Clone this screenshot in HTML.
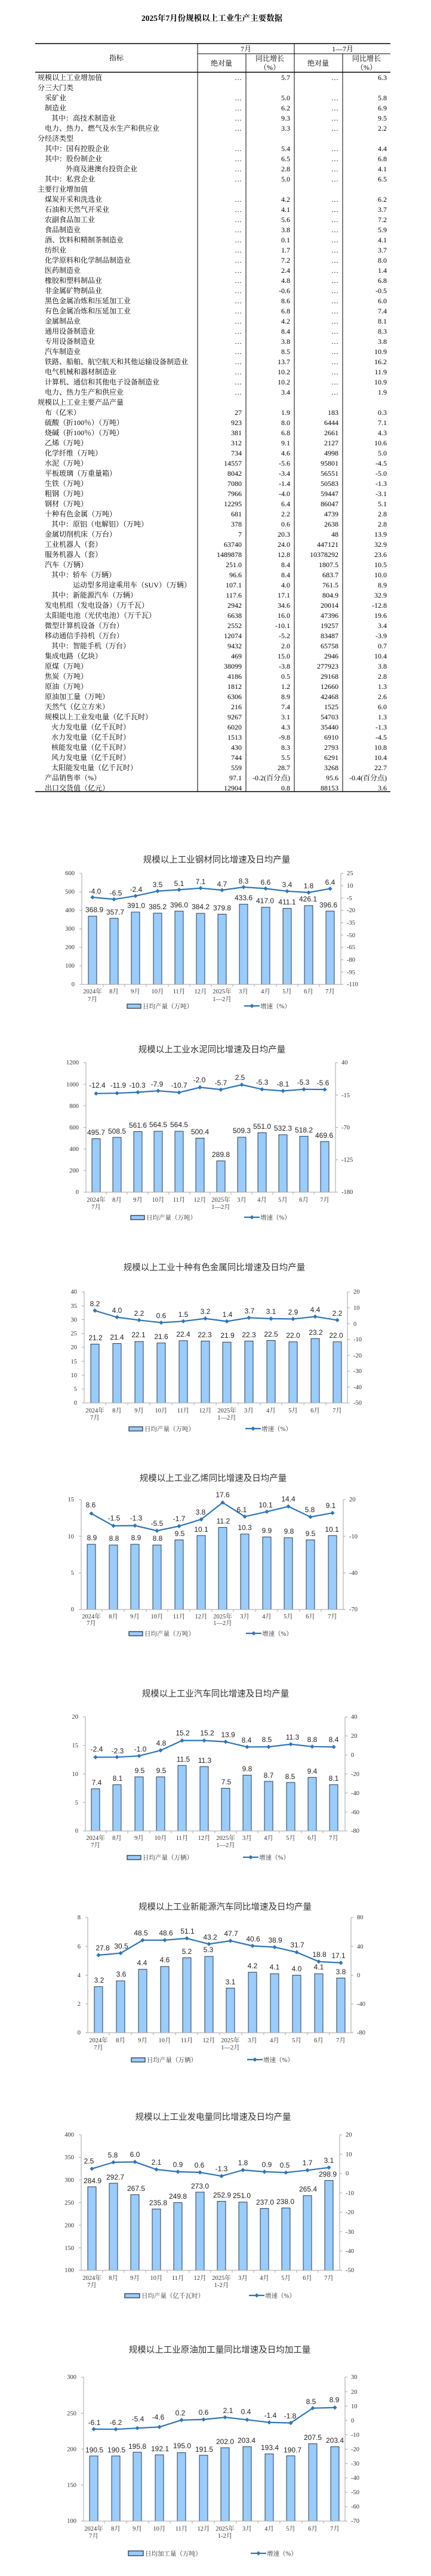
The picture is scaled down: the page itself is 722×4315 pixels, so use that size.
<!DOCTYPE html>
<html><head><meta charset="utf-8"><style>
html,body{margin:0;padding:0;background:#fff}
svg{display:block}
.tt{font:bold 13.5px "Liberation Serif","Noto Serif CJK SC",serif;text-anchor:middle;fill:#000}
.tb{font:12px "Liberation Serif","Noto Serif CJK SC",serif;fill:#000}
.r{text-anchor:end}
.c{text-anchor:middle}
.ct{font:14.5px "Liberation Sans","Noto Sans CJK SC",sans-serif;text-anchor:middle;fill:#333}
.v{font:12px "Liberation Sans",sans-serif;text-anchor:middle;fill:#222}
.k{font:10.5px "Liberation Serif","Noto Serif CJK SC",serif;fill:#333}
.bar rect{fill:#99CCFF;stroke:#1e2a36;stroke-width:.9}
.ln{fill:none;stroke:#2E75B6;stroke-width:2.2;stroke-linejoin:round}
.ax{stroke:#a6a6a6;stroke-width:1;fill:none}
</style></head><body>
<svg width="722" height="4315" viewBox="0 0 722 4315" xmlns="http://www.w3.org/2000/svg">
<defs>
<path id="d" d="M0,-3.6L3.6,0L0,3.6L-3.6,0Z" fill="#2E75B6"/>
<clipPath id="c1"><rect x="0" y="0" width="722" height="1649"/></clipPath>
<clipPath id="c2"><rect x="0" y="0" width="722" height="1997"/></clipPath>
<clipPath id="c3"><rect x="0" y="0" width="722" height="2350"/></clipPath>
<clipPath id="c4"><rect x="0" y="0" width="722" height="2696"/></clipPath>
<clipPath id="c5"><rect x="0" y="0" width="722" height="3067"/></clipPath>
<clipPath id="c6"><rect x="0" y="0" width="722" height="3405"/></clipPath>
<clipPath id="c7"><rect x="0" y="0" width="722" height="3803"/></clipPath>
<clipPath id="c8"><rect x="0" y="0" width="722" height="4223"/></clipPath>
</defs>

<!-- ================= TABLE ================= -->
<text class="tt" x="355" y="35">2025年7月份规模以上工业生产主要数据</text>
<g stroke="#000" fill="none">
<path d="M59,73H654" stroke-width="1.4"/>
<path d="M331,90H654" stroke-width="1"/>
<path d="M59,121H654" stroke-width="1.4"/>
<path d="M59,1326H654" stroke-width="1.5"/>
<path d="M331,73V1326M493,73V1326" stroke-width="1"/>
<path d="M412,90V1326M574,90V1326" stroke-width="1"/>
</g>
<g class="tb">
<text class="c" x="195" y="101">指标</text>
<text class="c" x="412" y="86">7月</text>
<text class="c" x="574" y="86">1—7月</text>
<text class="c" x="371" y="110">绝对量</text>
<text class="c" x="452" y="102">同比增长</text>
<text class="c" x="452" y="117">（%）</text>
<text class="c" x="533" y="110">绝对量</text>
<text class="c" x="614" y="102">同比增长</text>
<text class="c" x="614" y="117">（%）</text>
</g>
<g class="tb">
<text x="63" y="134">规模以上工业增加值</text>
<text x="63" y="151">分三大门类</text>
<text x="75" y="168">采矿业</text>
<text x="75" y="185">制造业</text>
<text x="86" y="202">其中：高技术制造业</text>
<text x="75" y="219">电力、热力、燃气及水生产和供应业</text>
<text x="63" y="236">分经济类型</text>
<text x="75" y="253">其中：国有控股企业</text>
<text x="75" y="270">其中：股份制企业</text>
<text x="110" y="287">外商及港澳台投资企业</text>
<text x="75" y="304">其中：私营企业</text>
<text x="63" y="321">主要行业增加值</text>
<text x="75" y="338">煤炭开采和洗选业</text>
<text x="75" y="355">石油和天然气开采业</text>
<text x="75" y="372">农副食品加工业</text>
<text x="75" y="389">食品制造业</text>
<text x="75" y="406">酒、饮料和精制茶制造业</text>
<text x="75" y="423">纺织业</text>
<text x="75" y="440">化学原料和化学制品制造业</text>
<text x="75" y="457">医药制造业</text>
<text x="75" y="474">橡胶和塑料制品业</text>
<text x="75" y="491">非金属矿物制品业</text>
<text x="75" y="508">黑色金属冶炼和压延加工业</text>
<text x="75" y="525">有色金属冶炼和压延加工业</text>
<text x="75" y="542">金属制品业</text>
<text x="75" y="559">通用设备制造业</text>
<text x="75" y="576">专用设备制造业</text>
<text x="75" y="593">汽车制造业</text>
<text x="75" y="610">铁路、船舶、航空航天和其他运输设备制造业</text>
<text x="75" y="627">电气机械和器材制造业</text>
<text x="75" y="644">计算机、通信和其他电子设备制造业</text>
<text x="75" y="661">电力、热力生产和供应业</text>
<text x="63" y="678">规模以上工业主要产品产量</text>
<text x="75" y="695">布（亿米）</text>
<text x="75" y="712">硫酸（折100％）（万吨）</text>
<text x="75" y="729">烧碱（折100％）（万吨）</text>
<text x="75" y="746">乙烯（万吨）</text>
<text x="75" y="763">化学纤维（万吨）</text>
<text x="75" y="780">水泥（万吨）</text>
<text x="75" y="797">平板玻璃（万重量箱）</text>
<text x="75" y="814">生铁（万吨）</text>
<text x="75" y="831">粗钢（万吨）</text>
<text x="75" y="848">钢材（万吨）</text>
<text x="75" y="865">十种有色金属（万吨）</text>
<text x="86" y="882">其中：原铝（电解铝）（万吨）</text>
<text x="75" y="899">金属切削机床（万台）</text>
<text x="75" y="916">工业机器人（套）</text>
<text x="75" y="933">服务机器人（套）</text>
<text x="75" y="950">汽车（万辆）</text>
<text x="86" y="967">其中：轿车（万辆）</text>
<text x="122" y="984">运动型多用途乘用车（SUV）（万辆）</text>
<text x="86" y="1001">其中：新能源汽车（万辆）</text>
<text x="75" y="1018">发电机组（发电设备）（万千瓦）</text>
<text x="75" y="1035">太阳能电池（光伏电池）（万千瓦）</text>
<text x="75" y="1052">微型计算机设备（万台）</text>
<text x="75" y="1069">移动通信手持机（万台）</text>
<text x="86" y="1086">其中：智能手机（万台）</text>
<text x="75" y="1103">集成电路（亿块）</text>
<text x="75" y="1120">原煤（万吨）</text>
<text x="75" y="1137">焦炭（万吨）</text>
<text x="75" y="1154">原油（万吨）</text>
<text x="75" y="1171">原油加工量（万吨）</text>
<text x="75" y="1188">天然气（亿立方米）</text>
<text x="75" y="1205">规模以上工业发电量（亿千瓦时）</text>
<text x="86" y="1222">火力发电量（亿千瓦时）</text>
<text x="86" y="1239">水力发电量（亿千瓦时）</text>
<text x="86" y="1256">核能发电量（亿千瓦时）</text>
<text x="86" y="1273">风力发电量（亿千瓦时）</text>
<text x="86" y="1290">太阳能发电量（亿千瓦时）</text>
<text x="75" y="1307">产品销售率（%）</text>
<text x="75" y="1324">出口交货值（亿元）</text>
</g>
<g class="tb r">
<!-- rows with … -->
<text x="405" y="134">…</text><text x="486" y="134">5.7</text><text x="567" y="134">…</text><text x="648" y="134">6.3</text>
<text x="405" y="168">…</text><text x="486" y="168">5.0</text><text x="567" y="168">…</text><text x="648" y="168">5.8</text>
<text x="405" y="185">…</text><text x="486" y="185">6.2</text><text x="567" y="185">…</text><text x="648" y="185">6.9</text>
<text x="405" y="202">…</text><text x="486" y="202">9.3</text><text x="567" y="202">…</text><text x="648" y="202">9.5</text>
<text x="405" y="219">…</text><text x="486" y="219">3.3</text><text x="567" y="219">…</text><text x="648" y="219">2.2</text>
<text x="405" y="253">…</text><text x="486" y="253">5.4</text><text x="567" y="253">…</text><text x="648" y="253">4.4</text>
<text x="405" y="270">…</text><text x="486" y="270">6.5</text><text x="567" y="270">…</text><text x="648" y="270">6.8</text>
<text x="405" y="287">…</text><text x="486" y="287">2.8</text><text x="567" y="287">…</text><text x="648" y="287">4.1</text>
<text x="405" y="304">…</text><text x="486" y="304">5.0</text><text x="567" y="304">…</text><text x="648" y="304">6.5</text>
<text x="405" y="338">…</text><text x="486" y="338">4.2</text><text x="567" y="338">…</text><text x="648" y="338">6.2</text>
<text x="405" y="355">…</text><text x="486" y="355">4.1</text><text x="567" y="355">…</text><text x="648" y="355">3.7</text>
<text x="405" y="372">…</text><text x="486" y="372">5.6</text><text x="567" y="372">…</text><text x="648" y="372">7.2</text>
<text x="405" y="389">…</text><text x="486" y="389">3.8</text><text x="567" y="389">…</text><text x="648" y="389">5.9</text>
<text x="405" y="406">…</text><text x="486" y="406">0.1</text><text x="567" y="406">…</text><text x="648" y="406">4.1</text>
<text x="405" y="423">…</text><text x="486" y="423">1.7</text><text x="567" y="423">…</text><text x="648" y="423">3.7</text>
<text x="405" y="440">…</text><text x="486" y="440">7.2</text><text x="567" y="440">…</text><text x="648" y="440">8.0</text>
<text x="405" y="457">…</text><text x="486" y="457">2.4</text><text x="567" y="457">…</text><text x="648" y="457">1.4</text>
<text x="405" y="474">…</text><text x="486" y="474">4.8</text><text x="567" y="474">…</text><text x="648" y="474">6.8</text>
<text x="405" y="491">…</text><text x="486" y="491">-0.6</text><text x="567" y="491">…</text><text x="648" y="491">-0.5</text>
<text x="405" y="508">…</text><text x="486" y="508">8.6</text><text x="567" y="508">…</text><text x="648" y="508">6.0</text>
<text x="405" y="525">…</text><text x="486" y="525">6.8</text><text x="567" y="525">…</text><text x="648" y="525">7.4</text>
<text x="405" y="542">…</text><text x="486" y="542">4.2</text><text x="567" y="542">…</text><text x="648" y="542">8.1</text>
<text x="405" y="559">…</text><text x="486" y="559">8.4</text><text x="567" y="559">…</text><text x="648" y="559">8.3</text>
<text x="405" y="576">…</text><text x="486" y="576">3.8</text><text x="567" y="576">…</text><text x="648" y="576">3.8</text>
<text x="405" y="593">…</text><text x="486" y="593">8.5</text><text x="567" y="593">…</text><text x="648" y="593">10.9</text>
<text x="405" y="610">…</text><text x="486" y="610">13.7</text><text x="567" y="610">…</text><text x="648" y="610">16.2</text>
<text x="405" y="627">…</text><text x="486" y="627">10.2</text><text x="567" y="627">…</text><text x="648" y="627">11.9</text>
<text x="405" y="644">…</text><text x="486" y="644">10.2</text><text x="567" y="644">…</text><text x="648" y="644">10.9</text>
<text x="405" y="661">…</text><text x="486" y="661">3.4</text><text x="567" y="661">…</text><text x="648" y="661">1.9</text>
<text x="405" y="695">27</text><text x="486" y="695">1.9</text><text x="567" y="695">183</text><text x="648" y="695">0.3</text>
<text x="405" y="712">923</text><text x="486" y="712">8.0</text><text x="567" y="712">6444</text><text x="648" y="712">7.1</text>
<text x="405" y="729">381</text><text x="486" y="729">6.8</text><text x="567" y="729">2661</text><text x="648" y="729">4.3</text>
<text x="405" y="746">312</text><text x="486" y="746">9.1</text><text x="567" y="746">2127</text><text x="648" y="746">10.6</text>
<text x="405" y="763">734</text><text x="486" y="763">4.6</text><text x="567" y="763">4998</text><text x="648" y="763">5.0</text>
<text x="405" y="780">14557</text><text x="486" y="780">-5.6</text><text x="567" y="780">95801</text><text x="648" y="780">-4.5</text>
<text x="405" y="797">8042</text><text x="486" y="797">-3.4</text><text x="567" y="797">56551</text><text x="648" y="797">-5.0</text>
<text x="405" y="814">7080</text><text x="486" y="814">-1.4</text><text x="567" y="814">50583</text><text x="648" y="814">-1.3</text>
<text x="405" y="831">7966</text><text x="486" y="831">-4.0</text><text x="567" y="831">59447</text><text x="648" y="831">-3.1</text>
<text x="405" y="848">12295</text><text x="486" y="848">6.4</text><text x="567" y="848">86047</text><text x="648" y="848">5.1</text>
<text x="405" y="865">681</text><text x="486" y="865">2.2</text><text x="567" y="865">4739</text><text x="648" y="865">2.8</text>
<text x="405" y="882">378</text><text x="486" y="882">0.6</text><text x="567" y="882">2638</text><text x="648" y="882">2.8</text>
<text x="405" y="899">7</text><text x="486" y="899">20.3</text><text x="567" y="899">48</text><text x="648" y="899">13.9</text>
<text x="405" y="916">63740</text><text x="486" y="916">24.0</text><text x="567" y="916">447121</text><text x="648" y="916">32.9</text>
<text x="405" y="933">1489878</text><text x="486" y="933">12.8</text><text x="567" y="933">10378292</text><text x="648" y="933">23.6</text>
<text x="405" y="950">251.0</text><text x="486" y="950">8.4</text><text x="567" y="950">1807.5</text><text x="648" y="950">10.5</text>
<text x="405" y="967">96.6</text><text x="486" y="967">8.4</text><text x="567" y="967">683.7</text><text x="648" y="967">10.0</text>
<text x="405" y="984">107.1</text><text x="486" y="984">4.0</text><text x="567" y="984">761.5</text><text x="648" y="984">8.9</text>
<text x="405" y="1001">117.6</text><text x="486" y="1001">17.1</text><text x="567" y="1001">804.9</text><text x="648" y="1001">32.9</text>
<text x="405" y="1018">2942</text><text x="486" y="1018">34.6</text><text x="567" y="1018">20014</text><text x="648" y="1018">-12.8</text>
<text x="405" y="1035">6638</text><text x="486" y="1035">16.0</text><text x="567" y="1035">47396</text><text x="648" y="1035">19.6</text>
<text x="405" y="1052">2552</text><text x="486" y="1052">-10.1</text><text x="567" y="1052">19257</text><text x="648" y="1052">3.4</text>
<text x="405" y="1069">12074</text><text x="486" y="1069">-5.2</text><text x="567" y="1069">83487</text><text x="648" y="1069">-3.9</text>
<text x="405" y="1086">9432</text><text x="486" y="1086">2.0</text><text x="567" y="1086">65758</text><text x="648" y="1086">0.7</text>
<text x="405" y="1103">469</text><text x="486" y="1103">15.0</text><text x="567" y="1103">2946</text><text x="648" y="1103">10.4</text>
<text x="405" y="1120">38099</text><text x="486" y="1120">-3.8</text><text x="567" y="1120">277923</text><text x="648" y="1120">3.8</text>
<text x="405" y="1137">4186</text><text x="486" y="1137">0.5</text><text x="567" y="1137">29168</text><text x="648" y="1137">2.8</text>
<text x="405" y="1154">1812</text><text x="486" y="1154">1.2</text><text x="567" y="1154">12660</text><text x="648" y="1154">1.3</text>
<text x="405" y="1171">6306</text><text x="486" y="1171">8.9</text><text x="567" y="1171">42468</text><text x="648" y="1171">2.6</text>
<text x="405" y="1188">216</text><text x="486" y="1188">7.4</text><text x="567" y="1188">1525</text><text x="648" y="1188">6.0</text>
<text x="405" y="1205">9267</text><text x="486" y="1205">3.1</text><text x="567" y="1205">54703</text><text x="648" y="1205">1.3</text>
<text x="405" y="1222">6020</text><text x="486" y="1222">4.3</text><text x="567" y="1222">35440</text><text x="648" y="1222">-1.3</text>
<text x="405" y="1239">1513</text><text x="486" y="1239">-9.8</text><text x="567" y="1239">6910</text><text x="648" y="1239">-4.5</text>
<text x="405" y="1256">430</text><text x="486" y="1256">8.3</text><text x="567" y="1256">2793</text><text x="648" y="1256">10.8</text>
<text x="405" y="1273">744</text><text x="486" y="1273">5.5</text><text x="567" y="1273">6291</text><text x="648" y="1273">10.4</text>
<text x="405" y="1290">559</text><text x="486" y="1290">28.7</text><text x="567" y="1290">3268</text><text x="648" y="1290">22.7</text>
<text x="405" y="1307">97.1</text><text x="486" y="1307">-0.2(百分点)</text><text x="567" y="1307">95.6</text><text x="648" y="1307">-0.4(百分点)</text>
<text x="405" y="1324">12904</text><text x="486" y="1324">0.8</text><text x="567" y="1324">88153</text><text x="648" y="1324">3.6</text>
</g>

<!-- ================= CHART 1 钢材 ================= -->
<text class="ct" x="363" y="1445">规模以上工业钢材同比增速及日均产量</text>
<g class="bar" clip-path="url(#c1)">
<rect x="148" y="1534.6" width="14" height="200"/><rect x="184" y="1538.1" width="14" height="200"/><rect x="220" y="1527.8" width="14" height="200"/><rect x="257" y="1529.6" width="14" height="200"/><rect x="293" y="1526.2" width="14" height="200"/><rect x="329" y="1529.9" width="14" height="200"/><rect x="365" y="1531.3" width="14" height="200"/><rect x="401" y="1514.6" width="14" height="200"/><rect x="438" y="1519.7" width="14" height="200"/><rect x="474" y="1521.6" width="14" height="200"/><rect x="510" y="1516.9" width="14" height="200"/><rect x="546" y="1526.1" width="14" height="200"/>
</g>
<path class="ax" d="M137,1463V1649H571M571,1463V1649M133,1649H137M133,1618H137M133,1587H137M133,1556H137M133,1525H137M133,1494H137M133,1463H137M571,1463H575M571,1483.7H575M571,1504.3H575M571,1525H575M571,1545.7H575M571,1566.3H575M571,1587H575M571,1607.7H575M571,1628.3H575M571,1649H575M173,1649V1653M209,1649V1653M245,1649V1653M282,1649V1653M318,1649V1653M354,1649V1653M390,1649V1653M426,1649V1653M463,1649V1653M499,1649V1653M535,1649V1653"/>
<polyline class="ln" points="155,1503 191,1506.4 227,1500.8 264,1492.6 300,1490.4 336,1487.7 372,1491 408,1486 445,1488.4 481,1492.8 517,1495 553,1488.6"/>
<use href="#d" x="155" y="1503"/><use href="#d" x="191" y="1506.4"/><use href="#d" x="227" y="1500.8"/><use href="#d" x="264" y="1492.6"/><use href="#d" x="300" y="1490.4"/><use href="#d" x="336" y="1487.7"/><use href="#d" x="372" y="1491"/><use href="#d" x="408" y="1486"/><use href="#d" x="445" y="1488.4"/><use href="#d" x="481" y="1492.8"/><use href="#d" x="517" y="1495"/><use href="#d" x="553" y="1488.6"/>
<g class="v">
<text x="159" y="1497">-4.0</text><text x="194" y="1500">-6.5</text><text x="228" y="1494">-2.4</text><text x="264" y="1486">3.5</text><text x="300" y="1484">5.1</text><text x="336" y="1481">7.1</text><text x="372" y="1485">4.7</text><text x="408" y="1480">8.3</text><text x="445" y="1482">6.6</text><text x="481" y="1486">3.4</text><text x="517" y="1488">1.8</text><text x="553" y="1482">6.4</text>
<text x="158" y="1528">368.9</text><text x="193" y="1532">357.7</text><text x="228" y="1521">391.0</text><text x="264" y="1523">385.2</text><text x="300" y="1520">396.0</text><text x="336" y="1523">384.2</text><text x="372" y="1525">379.8</text><text x="408" y="1508">433.6</text><text x="444" y="1513">417.0</text><text x="481" y="1515">411.1</text><text x="516" y="1510">426.1</text><text x="550" y="1520">396.6</text>
</g>
<g class="k r"><text x="125" y="1652">0</text><text x="125" y="1621">100</text><text x="125" y="1590">200</text><text x="125" y="1559">300</text><text x="125" y="1528">400</text><text x="125" y="1497">500</text><text x="125" y="1466">600</text></g>
<g class="k"><text x="581" y="1466">25</text><text x="581" y="1487">10</text><text x="581" y="1508">-5</text><text x="581" y="1528">-20</text><text x="581" y="1549">-35</text><text x="581" y="1570">-50</text><text x="581" y="1590">-65</text><text x="581" y="1611">-80</text><text x="581" y="1632">-95</text><text x="581" y="1652">-110</text></g>
<g class="k c"><text x="155" y="1664">2024年</text><text x="155" y="1677">7月</text><text x="191" y="1664">8月</text><text x="227" y="1664">9月</text><text x="264" y="1664">10月</text><text x="300" y="1664">11月</text><text x="336" y="1664">12月</text><text x="372" y="1664">2025年</text><text x="372" y="1677">1—2月</text><text x="408" y="1664">3月</text><text x="445" y="1664">4月</text><text x="481" y="1664">5月</text><text x="517" y="1664">6月</text><text x="553" y="1664">7月</text></g>
<rect x="213" y="1682" width="23" height="7" fill="#99CCFF" stroke="#1e2a36" stroke-width="1.2"/><text class="k" x="239" y="1689">日均产量（万吨）</text>
<path d="M409,1685H435" stroke="#2E75B6" stroke-width="2.2"/><use href="#d" x="422" y="1685"/><text class="k" x="436" y="1689">增速（%）</text>

<!-- ================= CHART 2 水泥 ================= -->
<text class="ct" x="355" y="1763">规模以上工业水泥同比增速及日均产量</text>
<g class="bar" clip-path="url(#c2)">
<rect x="154" y="1907.4" width="14" height="200"/><rect x="189" y="1905.1" width="14" height="200"/><rect x="224" y="1895.5" width="14" height="200"/><rect x="258" y="1894.9" width="14" height="200"/><rect x="293" y="1894.9" width="14" height="200"/><rect x="328" y="1906.5" width="14" height="200"/><rect x="363" y="1944.6" width="14" height="200"/><rect x="398" y="1904.9" width="14" height="200"/><rect x="432" y="1897.4" width="14" height="200"/><rect x="467" y="1900.8" width="14" height="200"/><rect x="502" y="1903.3" width="14" height="200"/><rect x="537" y="1912.1" width="14" height="200"/>
</g>
<path class="ax" d="M144,1780V1997H562M562,1780V1997M140,1997H144M140,1960.8H144M140,1924.7H144M140,1888.5H144M140,1852.3H144M140,1816.2H144M140,1780H144M562,1780H566M562,1834.3H566M562,1888.5H566M562,1942.8H566M562,1997H566M178,1997V2001M213,1997V2001M248,1997V2001M283,1997V2001M318,1997V2001M352,1997V2001M387,1997V2001M422,1997V2001M457,1997V2001M491,1997V2001M526,1997V2001"/>
<polyline class="ln" points="161,1831.7 196,1831.2 231,1829.6 265,1827.2 300,1830 335,1821.4 370,1825.1 405,1817 439,1824.7 474,1827.4 509,1824.7 544,1825"/>
<use href="#d" x="161" y="1831.7"/><use href="#d" x="196" y="1831.2"/><use href="#d" x="231" y="1829.6"/><use href="#d" x="265" y="1827.2"/><use href="#d" x="300" y="1830"/><use href="#d" x="335" y="1821.4"/><use href="#d" x="370" y="1825.1"/><use href="#d" x="405" y="1817"/><use href="#d" x="439" y="1824.7"/><use href="#d" x="474" y="1827.4"/><use href="#d" x="509" y="1824.7"/><use href="#d" x="544" y="1825"/>
<g class="v">
<text x="163" y="1822">-12.4</text><text x="198" y="1822">-11.9</text><text x="230" y="1822">-10.3</text><text x="263" y="1820">-7.9</text><text x="300" y="1822">-10.7</text><text x="334" y="1813">-2.0</text><text x="370" y="1818">-5.7</text><text x="402" y="1809">2.5</text><text x="439" y="1817">-5.3</text><text x="474" y="1820">-8.1</text><text x="508" y="1817">-5.3</text><text x="541" y="1818">-5.6</text>
<text x="161" y="1901">495.7</text><text x="196" y="1899">508.5</text><text x="231" y="1889">561.6</text><text x="265" y="1888">564.5</text><text x="300" y="1888">564.5</text><text x="335" y="1900">500.4</text><text x="370" y="1938">289.8</text><text x="405" y="1898">509.3</text><text x="439" y="1891">551.0</text><text x="474" y="1894">532.3</text><text x="509" y="1897">518.2</text><text x="543" y="1906">469.6</text>
</g>
<g class="k r"><text x="132" y="2000">0</text><text x="132" y="1964">200</text><text x="132" y="1928">400</text><text x="132" y="1892">600</text><text x="132" y="1856">800</text><text x="132" y="1820">1000</text><text x="132" y="1783">1200</text></g>
<g class="k"><text x="572" y="1783">40</text><text x="572" y="1838">-15</text><text x="572" y="1892">-70</text><text x="572" y="1946">-125</text><text x="572" y="2000">-180</text></g>
<g class="k c"><text x="161" y="2013">2024年</text><text x="161" y="2025">7月</text><text x="196" y="2013">8月</text><text x="231" y="2013">9月</text><text x="265" y="2013">10月</text><text x="300" y="2013">11月</text><text x="335" y="2013">12月</text><text x="370" y="2013">2025年</text><text x="370" y="2025">1—2月</text><text x="405" y="2013">3月</text><text x="439" y="2013">4月</text><text x="474" y="2013">5月</text><text x="509" y="2013">6月</text><text x="544" y="2013">7月</text></g>
<rect x="219" y="2036" width="23" height="7" fill="#99CCFF" stroke="#1e2a36" stroke-width="1.2"/><text class="k" x="245" y="2043">日均产量（万吨）</text>
<path d="M409,2039H435" stroke="#2E75B6" stroke-width="2.2"/><use href="#d" x="422" y="2039"/><text class="k" x="436" y="2043">增速（%）</text>

<!-- ================= CHART 3 十种有色金属 ================= -->
<text class="ct" x="359" y="2128">规模以上工业十种有色金属同比增速及日均产量</text>
<g class="bar" clip-path="url(#c3)">
<rect x="152" y="2251.4" width="14" height="200"/><rect x="189" y="2250.5" width="14" height="200"/><rect x="226" y="2247.2" width="14" height="200"/><rect x="263" y="2249.6" width="14" height="200"/><rect x="300" y="2245.8" width="14" height="200"/><rect x="337" y="2246.3" width="14" height="200"/><rect x="373" y="2248.2" width="14" height="200"/><rect x="410" y="2246.3" width="14" height="200"/><rect x="447" y="2245.4" width="14" height="200"/><rect x="484" y="2247.7" width="14" height="200"/><rect x="521" y="2242.1" width="14" height="200"/><rect x="558" y="2247.7" width="14" height="200"/>
</g>
<path class="ax" d="M141,2164V2350H582M582,2164V2350M137,2350H141M137,2326.8H141M137,2303.5H141M137,2280.3H141M137,2257H141M137,2233.8H141M137,2210.5H141M137,2187.3H141M137,2164H141M582,2164H586M582,2190.6H586M582,2217.1H586M582,2243.7H586M582,2270.3H586M582,2296.9H586M582,2323.4H586M582,2350H586M177,2350V2354M214,2350V2354M251,2350V2354M288,2350V2354M325,2350V2354M362,2350V2354M399,2350V2354M436,2350V2354M472,2350V2354M509,2350V2354M546,2350V2354"/>
<polyline class="ln" points="159,2195.4 196,2206.5 233,2211.3 270,2215.5 307,2213.2 344,2208.6 380,2213.4 417,2207.3 454,2208.9 491,2209.4 528,2205.4 565,2211.3"/>
<use href="#d" x="159" y="2195.4"/><use href="#d" x="196" y="2206.5"/><use href="#d" x="233" y="2211.3"/><use href="#d" x="270" y="2215.5"/><use href="#d" x="307" y="2213.2"/><use href="#d" x="344" y="2208.6"/><use href="#d" x="380" y="2213.4"/><use href="#d" x="417" y="2207.3"/><use href="#d" x="454" y="2208.9"/><use href="#d" x="491" y="2209.4"/><use href="#d" x="528" y="2205.4"/><use href="#d" x="565" y="2211.3"/>
<g class="v">
<text x="159" y="2188">8.2</text><text x="196" y="2199">4.0</text><text x="233" y="2204">2.2</text><text x="270" y="2208">0.6</text><text x="307" y="2206">1.5</text><text x="344" y="2201">3.2</text><text x="381" y="2206">1.4</text><text x="418" y="2200">3.7</text><text x="454" y="2201">3.1</text><text x="491" y="2202">2.9</text><text x="528" y="2198">4.4</text><text x="565" y="2204">2.2</text>
<text x="160" y="2245">21.2</text><text x="196" y="2244">21.4</text><text x="232" y="2240">22.1</text><text x="270" y="2243">21.6</text><text x="307" y="2239">22.4</text><text x="343" y="2240">22.3</text><text x="381" y="2241">21.9</text><text x="417" y="2240">22.3</text><text x="454" y="2239">22.5</text><text x="491" y="2241">22.0</text><text x="529" y="2236">23.2</text><text x="563" y="2241">22.0</text>
</g>
<g class="k r"><text x="129" y="2353">0</text><text x="129" y="2330">5</text><text x="129" y="2307">10</text><text x="129" y="2284">15</text><text x="129" y="2260">20</text><text x="129" y="2237">25</text><text x="129" y="2214">30</text><text x="129" y="2191">35</text><text x="129" y="2167">40</text></g>
<g class="k"><text x="592" y="2167">20</text><text x="592" y="2194">10</text><text x="592" y="2221">0</text><text x="592" y="2247">-10</text><text x="592" y="2274">-20</text><text x="592" y="2300">-30</text><text x="592" y="2327">-40</text><text x="592" y="2353">-50</text></g>
<g class="k c"><text x="159" y="2366">2024年</text><text x="159" y="2378">7月</text><text x="196" y="2366">8月</text><text x="233" y="2366">9月</text><text x="270" y="2366">10月</text><text x="307" y="2366">11月</text><text x="344" y="2366">12月</text><text x="380" y="2366">2025年</text><text x="380" y="2378">1—2月</text><text x="417" y="2366">3月</text><text x="454" y="2366">4月</text><text x="491" y="2366">5月</text><text x="528" y="2366">6月</text><text x="565" y="2366">7月</text></g>
<rect x="216" y="2390" width="23" height="7" fill="#99CCFF" stroke="#1e2a36" stroke-width="1.2"/><text class="k" x="242" y="2397">日均产量（万吨）</text>
<path d="M411,2393H437" stroke="#2E75B6" stroke-width="2.2"/><use href="#d" x="424" y="2393"/><text class="k" x="438" y="2397">增速（%）</text>

<!-- ================= CHART 4 乙烯 ================= -->
<text class="ct" x="357" y="2481">规模以上工业乙烯同比增速及日均产量</text>
<g class="bar" clip-path="url(#c4)">
<rect x="146" y="2586.8" width="14" height="200"/><rect x="183" y="2588" width="14" height="200"/><rect x="219" y="2586.8" width="14" height="200"/><rect x="256" y="2588" width="14" height="200"/><rect x="293" y="2579.4" width="14" height="200"/><rect x="330" y="2572.1" width="14" height="200"/><rect x="366" y="2558.6" width="14" height="200"/><rect x="403" y="2569.6" width="14" height="200"/><rect x="440" y="2574.5" width="14" height="200"/><rect x="476" y="2575.8" width="14" height="200"/><rect x="513" y="2579.4" width="14" height="200"/><rect x="550" y="2572.1" width="14" height="200"/>
</g>
<path class="ax" d="M136,2512V2696H575M575,2512V2696M132,2696H136M132,2634.7H136M132,2573.3H136M132,2512H136M575,2512H579M575,2573.3H579M575,2634.7H579M575,2696H579M171,2696V2700M208,2696V2700M245,2696V2700M281,2696V2700M318,2696V2700M355,2696V2700M391,2696V2700M428,2696V2700M465,2696V2700M502,2696V2700M538,2696V2700"/>
<polyline class="ln" points="153,2535.3 190,2555.9 226,2555.5 263,2564.1 300,2556.4 337,2545.1 373,2516.9 410,2540.4 447,2532.2 483,2523.4 520,2541 557,2534.3"/>
<use href="#d" x="153" y="2535.3"/><use href="#d" x="190" y="2555.9"/><use href="#d" x="226" y="2555.5"/><use href="#d" x="263" y="2564.1"/><use href="#d" x="300" y="2556.4"/><use href="#d" x="337" y="2545.1"/><use href="#d" x="373" y="2516.9"/><use href="#d" x="410" y="2540.4"/><use href="#d" x="447" y="2532.2"/><use href="#d" x="483" y="2523.4"/><use href="#d" x="520" y="2541"/><use href="#d" x="557" y="2534.3"/>
<g class="v">
<text x="152" y="2525">8.6</text><text x="191" y="2547">-1.5</text><text x="228" y="2547">-1.3</text><text x="263" y="2556">-5.5</text><text x="300" y="2548">-1.7</text><text x="336" y="2537">3.8</text><text x="373" y="2508">17.6</text><text x="405" y="2533">6.1</text><text x="445" y="2525">10.1</text><text x="483" y="2515">14.4</text><text x="519" y="2533">5.8</text><text x="554" y="2526">9.1</text>
<text x="154" y="2580">8.9</text><text x="191" y="2581">8.8</text><text x="228" y="2580">8.9</text><text x="264" y="2581">8.8</text><text x="301" y="2573">9.5</text><text x="337" y="2566">10.1</text><text x="374" y="2552">11.2</text><text x="410" y="2563">10.3</text><text x="447" y="2568">9.9</text><text x="484" y="2569">9.8</text><text x="520" y="2573">9.5</text><text x="556" y="2566">10.1</text>
</g>
<g class="k r"><text x="124" y="2699">0</text><text x="124" y="2638">5</text><text x="124" y="2577">10</text><text x="124" y="2515">15</text></g>
<g class="k"><text x="585" y="2515">20</text><text x="585" y="2577">-10</text><text x="585" y="2638">-40</text><text x="585" y="2699">-70</text></g>
<g class="k c"><text x="153" y="2711">2024年</text><text x="153" y="2722">7月</text><text x="190" y="2711">8月</text><text x="226" y="2711">9月</text><text x="263" y="2711">10月</text><text x="300" y="2711">11月</text><text x="337" y="2711">12月</text><text x="373" y="2711">2025年</text><text x="373" y="2722">1—2月</text><text x="410" y="2711">3月</text><text x="447" y="2711">4月</text><text x="483" y="2711">5月</text><text x="520" y="2711">6月</text><text x="557" y="2711">7月</text></g>
<rect x="216" y="2733" width="23" height="7" fill="#99CCFF" stroke="#1e2a36" stroke-width="1.2"/><text class="k" x="242" y="2740">日均产量（万吨）</text>
<path d="M412,2736H438" stroke="#2E75B6" stroke-width="2.2"/><use href="#d" x="425" y="2736"/><text class="k" x="439" y="2740">增速（%）</text>

<!-- ================= CHART 5 汽车 ================= -->
<text class="ct" x="361" y="2842">规模以上工业汽车同比增速及日均产量</text>
<g class="bar" clip-path="url(#c5)">
<rect x="153" y="2996.3" width="14" height="200"/><rect x="189" y="2989.6" width="14" height="200"/><rect x="226" y="2976.3" width="14" height="200"/><rect x="262" y="2976.3" width="14" height="200"/><rect x="298" y="2957.2" width="14" height="200"/><rect x="335" y="2959.1" width="14" height="200"/><rect x="371" y="2995.4" width="14" height="200"/><rect x="407" y="2973.4" width="14" height="200"/><rect x="443" y="2983.9" width="14" height="200"/><rect x="480" y="2985.8" width="14" height="200"/><rect x="516" y="2977.2" width="14" height="200"/><rect x="552" y="2989.6" width="14" height="200"/>
</g>
<path class="ax" d="M143,2876V3067H578M578,2876V3067M139,3067H143M139,3019.3H143M139,2971.5H143M139,2923.8H143M139,2876H143M578,2876H582M578,2907.8H582M578,2939.7H582M578,2971.5H582M578,3003.3H582M578,3035.2H582M578,3067H582M178,3067V3071M214,3067V3071M251,3067V3071M287,3067V3071M323,3067V3071M360,3067V3071M396,3067V3071M432,3067V3071M468,3067V3071M505,3067V3071M541,3067V3071"/>
<polyline class="ln" points="160,2943.5 196,2943.3 233,2941.3 269,2932 305,2915.5 342,2915.5 378,2917.6 414,2926.3 450,2926.1 487,2921.7 523,2925.7 559,2926.3"/>
<use href="#d" x="160" y="2943.5"/><use href="#d" x="196" y="2943.3"/><use href="#d" x="233" y="2941.3"/><use href="#d" x="269" y="2932"/><use href="#d" x="305" y="2915.5"/><use href="#d" x="342" y="2915.5"/><use href="#d" x="378" y="2917.6"/><use href="#d" x="414" y="2926.3"/><use href="#d" x="450" y="2926.1"/><use href="#d" x="487" y="2921.7"/><use href="#d" x="523" y="2925.7"/><use href="#d" x="559" y="2926.3"/>
<g class="v">
<text x="162" y="2934">-2.4</text><text x="197" y="2937">-2.3</text><text x="235" y="2934">-1.0</text><text x="270" y="2924">4.8</text><text x="306" y="2907">15.2</text><text x="347" y="2907">15.2</text><text x="382" y="2910">13.9</text><text x="413" y="2919">8.4</text><text x="447" y="2918">8.5</text><text x="490" y="2914">11.3</text><text x="523" y="2918">8.8</text><text x="559" y="2918">8.4</text>
<text x="162" y="2990">7.4</text><text x="197" y="2983">8.1</text><text x="234" y="2970">9.5</text><text x="270" y="2970">9.5</text><text x="307" y="2951">11.5</text><text x="343" y="2953">11.3</text><text x="379" y="2989">7.5</text><text x="414" y="2967">9.8</text><text x="450" y="2978">8.7</text><text x="486" y="2980">8.5</text><text x="523" y="2971">9.4</text><text x="559" y="2983">8.1</text>
</g>
<g class="k r"><text x="131" y="3070">0</text><text x="131" y="3023">5</text><text x="131" y="2975">10</text><text x="131" y="2927">15</text><text x="131" y="2879">20</text></g>
<g class="k"><text x="588" y="2879">40</text><text x="588" y="2911">20</text><text x="588" y="2943">0</text><text x="588" y="2975">-20</text><text x="588" y="3007">-40</text><text x="588" y="3039">-60</text><text x="588" y="3070">-80</text></g>
<g class="k c"><text x="160" y="3082">2024年</text><text x="160" y="3094">7月</text><text x="196" y="3082">8月</text><text x="233" y="3082">9月</text><text x="269" y="3082">10月</text><text x="305" y="3082">11月</text><text x="342" y="3082">12月</text><text x="378" y="3082">2025年</text><text x="378" y="3094">1—2月</text><text x="414" y="3082">3月</text><text x="450" y="3082">4月</text><text x="487" y="3082">5月</text><text x="523" y="3082">6月</text><text x="559" y="3082">7月</text></g>
<rect x="213" y="3108" width="23" height="7" fill="#99CCFF" stroke="#1e2a36" stroke-width="1.2"/><text class="k" x="239" y="3115">日均产量（万辆）</text>
<path d="M407,3111H433" stroke="#2E75B6" stroke-width="2.2"/><use href="#d" x="420" y="3111"/><text class="k" x="434" y="3115">增速（%）</text>

<!-- ================= CHART 6 新能源汽车 ================= -->
<text class="ct" x="377" y="3199">规模以上工业新能源汽车同比增速及日均产量</text>
<g class="bar" clip-path="url(#c6)">
<rect x="158" y="3327.8" width="14" height="200"/><rect x="195" y="3318.1" width="14" height="200"/><rect x="232" y="3298.8" width="14" height="200"/><rect x="269" y="3294" width="14" height="200"/><rect x="306" y="3279.5" width="14" height="200"/><rect x="343" y="3277.1" width="14" height="200"/><rect x="379" y="3330.2" width="14" height="200"/><rect x="416" y="3303.7" width="14" height="200"/><rect x="453" y="3306.1" width="14" height="200"/><rect x="490" y="3308.5" width="14" height="200"/><rect x="527" y="3306.1" width="14" height="200"/><rect x="564" y="3313.3" width="14" height="200"/>
</g>
<path class="ax" d="M147,3212V3405H588M588,3212V3405M143,3405H147M143,3356.8H147M143,3308.5H147M143,3260.3H147M143,3212H147M588,3212H592M588,3260.3H592M588,3308.5H592M588,3356.8H592M588,3405H592M183,3405V3409M220,3405V3409M257,3405V3409M294,3405V3409M331,3405V3409M368,3405V3409M405,3405V3409M442,3405V3409M478,3405V3409M515,3405V3409M552,3405V3409"/>
<polyline class="ln" points="165,3275 202,3271.7 239,3250 276,3249.9 313,3246.9 350,3256.4 386,3251 423,3259.5 460,3261.6 497,3270.2 534,3285.8 571,3287.9"/>
<use href="#d" x="165" y="3275"/><use href="#d" x="202" y="3271.7"/><use href="#d" x="239" y="3250"/><use href="#d" x="276" y="3249.9"/><use href="#d" x="313" y="3246.9"/><use href="#d" x="350" y="3256.4"/><use href="#d" x="386" y="3251"/><use href="#d" x="423" y="3259.5"/><use href="#d" x="460" y="3261.6"/><use href="#d" x="497" y="3270.2"/><use href="#d" x="534" y="3285.8"/><use href="#d" x="571" y="3287.9"/>
<g class="v">
<text x="172" y="3267">27.8</text><text x="203" y="3264">30.5</text><text x="236" y="3242">48.5</text><text x="278" y="3242">48.6</text><text x="314" y="3239">51.1</text><text x="352" y="3249">43.2</text><text x="387" y="3243">47.7</text><text x="424" y="3252">40.6</text><text x="461" y="3254">38.9</text><text x="498" y="3262">31.7</text><text x="535" y="3278">18.8</text><text x="567" y="3280">17.1</text>
<text x="166" y="3321">3.2</text><text x="203" y="3311">3.6</text><text x="238" y="3292">4.4</text><text x="276" y="3287">4.6</text><text x="313" y="3273">5.2</text><text x="349" y="3270">5.3</text><text x="386" y="3324">3.1</text><text x="423" y="3297">4.2</text><text x="460" y="3299">4.1</text><text x="497" y="3302">4.0</text><text x="534" y="3299">4.1</text><text x="571" y="3307">3.8</text>
</g>
<g class="k r"><text x="135" y="3408">0</text><text x="135" y="3360">2</text><text x="135" y="3312">4</text><text x="135" y="3264">6</text><text x="135" y="3215">8</text></g>
<g class="k"><text x="598" y="3215">80</text><text x="598" y="3264">40</text><text x="598" y="3312">0</text><text x="598" y="3360">-40</text><text x="598" y="3408">-80</text></g>
<g class="k c"><text x="165" y="3421">2024年</text><text x="165" y="3433">7月</text><text x="202" y="3421">8月</text><text x="239" y="3421">9月</text><text x="276" y="3421">10月</text><text x="313" y="3421">11月</text><text x="350" y="3421">12月</text><text x="386" y="3421">2025年</text><text x="386" y="3433">1—2月</text><text x="423" y="3421">3月</text><text x="460" y="3421">4月</text><text x="497" y="3421">5月</text><text x="534" y="3421">6月</text><text x="571" y="3421">7月</text></g>
<rect x="220" y="3447" width="23" height="7" fill="#99CCFF" stroke="#1e2a36" stroke-width="1.2"/><text class="k" x="246" y="3454">日均产量（万辆）</text>
<path d="M414,3450H440" stroke="#2E75B6" stroke-width="2.2"/><use href="#d" x="427" y="3450"/><text class="k" x="441" y="3454">增速（%）</text>

<!-- ================= CHART 7 发电量 ================= -->
<text class="ct" x="357" y="3551">规模以上工业发电量同比增速及日均产量</text>
<g class="bar" clip-path="url(#c7)">
<rect x="147" y="3663" width="14" height="200"/><rect x="183" y="3657.1" width="14" height="200"/><rect x="219" y="3676.2" width="14" height="200"/><rect x="255" y="3700.2" width="14" height="200"/><rect x="291" y="3689.6" width="14" height="200"/><rect x="328" y="3672" width="14" height="200"/><rect x="364" y="3687.3" width="14" height="200"/><rect x="400" y="3688.7" width="14" height="200"/><rect x="436" y="3699.3" width="14" height="200"/><rect x="472" y="3698.5" width="14" height="200"/><rect x="508" y="3677.8" width="14" height="200"/><rect x="544" y="3652.4" width="14" height="200"/>
</g>
<path class="ax" d="M136,3576V3803H569M569,3576V3803M132,3803H136M132,3765.2H136M132,3727.3H136M132,3689.5H136M132,3651.7H136M132,3613.8H136M132,3576H136M569,3576H573M569,3608.4H573M569,3640.9H573M569,3673.3H573M569,3705.7H573M569,3738.1H573M569,3770.6H573M569,3803H573M172,3803V3807M208,3803V3807M244,3803V3807M280,3803V3807M317,3803V3807M353,3803V3807M389,3803V3807M425,3803V3807M461,3803V3807M497,3803V3807M533,3803V3807"/>
<polyline class="ln" points="154,3632.8 190,3622 226,3621.4 262,3634 298,3637.9 335,3638.9 371,3645.1 407,3635 443,3637.9 479,3639.2 515,3635.3 551,3630.8"/>
<use href="#d" x="154" y="3632.8"/><use href="#d" x="190" y="3622"/><use href="#d" x="226" y="3621.4"/><use href="#d" x="262" y="3634"/><use href="#d" x="298" y="3637.9"/><use href="#d" x="335" y="3638.9"/><use href="#d" x="371" y="3645.1"/><use href="#d" x="407" y="3635"/><use href="#d" x="443" y="3637.9"/><use href="#d" x="479" y="3639.2"/><use href="#d" x="515" y="3635.3"/><use href="#d" x="551" y="3630.8"/>
<g class="v">
<text x="149" y="3624">2.5</text><text x="189" y="3614">5.8</text><text x="226" y="3613">6.0</text><text x="262" y="3626">2.1</text><text x="298" y="3630">0.9</text><text x="334" y="3631">0.6</text><text x="371" y="3637">-1.3</text><text x="407" y="3627">1.8</text><text x="447" y="3630">0.9</text><text x="477" y="3631">0.5</text><text x="515" y="3627">1.7</text><text x="551" y="3623">3.1</text>
<text x="155" y="3657">284.9</text><text x="193" y="3651">292.7</text><text x="228" y="3670">267.5</text><text x="265" y="3694">235.8</text><text x="298" y="3683">249.8</text><text x="335" y="3666">273.0</text><text x="372" y="3681">252.9</text><text x="405" y="3682">251.0</text><text x="444" y="3693">237.0</text><text x="478" y="3692">238.0</text><text x="516" y="3671">265.4</text><text x="549" y="3646">298.9</text>
</g>
<g class="k r"><text x="124" y="3806">100</text><text x="124" y="3769">150</text><text x="124" y="3731">200</text><text x="124" y="3693">250</text><text x="124" y="3655">300</text><text x="124" y="3617">350</text><text x="124" y="3579">400</text></g>
<g class="k"><text x="579" y="3579">20</text><text x="579" y="3612">10</text><text x="579" y="3644">0</text><text x="579" y="3677">-10</text><text x="579" y="3709">-20</text><text x="579" y="3742">-30</text><text x="579" y="3774">-40</text><text x="579" y="3806">-50</text></g>
<g class="k c"><text x="154" y="3819">2024年</text><text x="154" y="3831">7月</text><text x="190" y="3819">8月</text><text x="226" y="3819">9月</text><text x="262" y="3819">10月</text><text x="298" y="3819">11月</text><text x="335" y="3819">12月</text><text x="371" y="3819">2025年</text><text x="371" y="3831">1-2月</text><text x="407" y="3819">3月</text><text x="443" y="3819">4月</text><text x="479" y="3819">5月</text><text x="515" y="3819">6月</text><text x="551" y="3819">7月</text></g>
<rect x="209" y="3842" width="25" height="7" fill="#99CCFF" stroke="#1e2a36" stroke-width="1.2"/><text class="k" x="237" y="3849">日均产量（亿千瓦时）</text>
<path d="M417,3845H443" stroke="#2E75B6" stroke-width="2.2"/><use href="#d" x="430" y="3845"/><text class="k" x="444" y="3849">增速（%）</text>

<!-- ================= CHART 8 原油加工量 ================= -->
<text class="ct" x="368" y="3941">规模以上工业原油加工量同比增速及日均加工量</text>
<g class="bar" clip-path="url(#c8)">
<rect x="150" y="4113.9" width="14" height="200"/><rect x="187" y="4113.9" width="14" height="200"/><rect x="223" y="4107.6" width="14" height="200"/><rect x="260" y="4112" width="14" height="200"/><rect x="297" y="4108.5" width="14" height="200"/><rect x="334" y="4112.7" width="14" height="200"/><rect x="370" y="4100.1" width="14" height="200"/><rect x="407" y="4098.4" width="14" height="200"/><rect x="444" y="4110.5" width="14" height="200"/><rect x="480" y="4113.7" width="14" height="200"/><rect x="517" y="4093.5" width="14" height="200"/><rect x="554" y="4098.4" width="14" height="200"/>
</g>
<path class="ax" d="M140,3982V4223H578M578,3982V4223M136,4223H140M136,4162.8H140M136,4102.5H140M136,4042.3H140M136,3982H140M578,3982H582M578,4006.1H582M578,4030.2H582M578,4054.3H582M578,4078.4H582M578,4102.5H582M578,4126.6H582M578,4150.7H582M578,4174.8H582M578,4198.9H582M578,4223H582M175,4223V4227M212,4223V4227M249,4223V4227M285,4223V4227M322,4223V4227M359,4223V4227M396,4223V4227M432,4223V4227M469,4223V4227M506,4223V4227M542,4223V4227"/>
<polyline class="ln" points="157,4069 194,4069.2 230,4067.3 267,4065.4 304,4053.8 341,4052.9 377,4049.2 414,4053.3 451,4057.7 487,4058.6 524,4033.8 561,4032.9"/>
<use href="#d" x="157" y="4069"/><use href="#d" x="194" y="4069.2"/><use href="#d" x="230" y="4067.3"/><use href="#d" x="267" y="4065.4"/><use href="#d" x="304" y="4053.8"/><use href="#d" x="341" y="4052.9"/><use href="#d" x="377" y="4049.2"/><use href="#d" x="414" y="4053.3"/><use href="#d" x="451" y="4057.7"/><use href="#d" x="487" y="4058.6"/><use href="#d" x="524" y="4033.8"/><use href="#d" x="561" y="4032.9"/>
<g class="v">
<text x="158" y="4062">-6.1</text><text x="194" y="4062">-6.2</text><text x="231" y="4056">-5.4</text><text x="265" y="4053">-4.6</text><text x="302" y="4046">0.2</text><text x="341" y="4045">0.6</text><text x="382" y="4042">2.1</text><text x="412" y="4044">0.4</text><text x="453" y="4050">-1.4</text><text x="486" y="4051">-1.8</text><text x="521" y="4027">8.5</text><text x="560" y="4024">8.9</text>
<text x="158" y="4108">190.5</text><text x="195" y="4108">190.5</text><text x="230" y="4102">195.8</text><text x="268" y="4106">192.1</text><text x="305" y="4101">195.0</text><text x="342" y="4107">191.5</text><text x="377" y="4094">202.0</text><text x="413" y="4092">203.4</text><text x="452" y="4104">193.4</text><text x="490" y="4108">190.7</text><text x="524" y="4087">207.5</text><text x="561" y="4092">203.4</text>
</g>
<g class="k r"><text x="128" y="4226">100</text><text x="128" y="4166">150</text><text x="128" y="4106">200</text><text x="128" y="4046">250</text><text x="128" y="3985">300</text></g>
<g class="k"><text x="588" y="3985">30</text><text x="588" y="4010">20</text><text x="588" y="4034">10</text><text x="588" y="4058">0</text><text x="588" y="4082">-10</text><text x="588" y="4106">-20</text><text x="588" y="4130">-30</text><text x="588" y="4154">-40</text><text x="588" y="4178">-50</text><text x="588" y="4202">-60</text><text x="588" y="4226">-70</text></g>
<g class="k c"><text x="157" y="4239">2024年</text><text x="157" y="4251">7月</text><text x="194" y="4239">8月</text><text x="230" y="4239">9月</text><text x="267" y="4239">10月</text><text x="304" y="4239">11月</text><text x="341" y="4239">12月</text><text x="377" y="4239">2025年</text><text x="377" y="4251">1-2月</text><text x="414" y="4239">3月</text><text x="451" y="4239">4月</text><text x="487" y="4239">5月</text><text x="524" y="4239">6月</text><text x="561" y="4239">7月</text></g>
<rect x="215" y="4273" width="25" height="8" fill="#99CCFF" stroke="#1e2a36" stroke-width="1.2"/><text class="k" x="243" y="4281">日均加工量（万吨）</text>
<path d="M420,4277H446" stroke="#2E75B6" stroke-width="2.2"/><use href="#d" x="433" y="4277"/><text class="k" x="447" y="4281">增速（%）</text>
</svg>
</body></html>
